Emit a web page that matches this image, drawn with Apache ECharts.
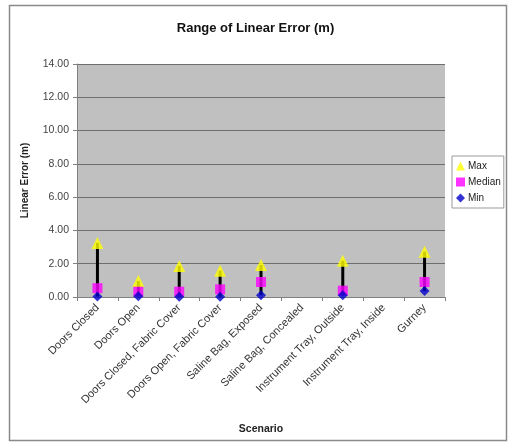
<!DOCTYPE html>
<html><head><meta charset="utf-8">
<script src="https://cdn.jsdelivr.net/npm/echarts@6/dist/echarts.min.js"></script>
<style>html,body{margin:0;padding:0;background:#fff}#c{width:511px;height:442px}</style>
</head><body><div id="c"></div>
<script>
const categories = ["Doors Closed","Doors Open","Doors Closed, Fabric Cover","Doors Open, Fabric Cover","Saline Bag, Exposed","Saline Bag, Concealed","Instrument Tray, Outside","Instrument Tray, Inside","Gurney"];
const maxVals = [3.25, 0.96, 1.86, 1.58, 1.92, null, 2.18, null, 2.72];
const medianVals = [0.53, 0.32, 0.32, 0.46, 0.90, null, 0.38, null, 0.90];
const minVals = [0.03, 0.05, 0.02, 0.02, 0.10, null, 0.10, null, 0.36];
const yTicks = [0, 2, 4, 6, 8, 10, 12, 14];

const F = "'Liberation Sans', Arial, sans-serif";
const rangeData = [];
categories.forEach((c, i) => { if (maxVals[i] != null) rangeData.push([i, minVals[i], maxVals[i]]); });

const chart = echarts.init(document.getElementById('c'));
chart.setOption({
  animation: false,
  backgroundColor: '#fff',
  textStyle: { fontFamily: F },
  title: { text: 'Range of Linear Error (m)', left: 'center', top: 17,
    textStyle: { fontFamily: F, fontSize: 13, fontWeight: 'bold', color: '#111' } },
  graphic: [{ type: 'rect', shape: { x: 9.5, y: 5.5, width: 497, height: 435 },
    style: { fill: 'none', stroke: '#8a8a8a', lineWidth: 1.5 }, z: 100 }],
  legend: {
    orient: 'vertical', left: 452, top: 156, width: 52,
    backgroundColor: '#fff', borderColor: '#9a9a9a', borderWidth: 1,
    padding: [5, 3, 5, 4], itemGap: 6, itemWidth: 9, itemHeight: 9,
    textStyle: { fontFamily: F, fontSize: 10, color: '#222', padding: [0, 0, 0, -2] },
    data: [{ name: 'Max', icon: 'triangle' }, { name: 'Median', icon: 'rect' }, { name: 'Min', icon: 'diamond' }]
  },
  grid: { left: 77, right: 66, top: 64, bottom: 145, show: true, backgroundColor: '#c0c0c0', borderWidth: 0 },
  xAxis: {
    type: 'category', data: categories, boundaryGap: true,
    name: 'Scenario', nameLocation: 'middle', nameGap: 127,
    nameTextStyle: { fontFamily: F, fontSize: 10.5, fontWeight: 'bold', color: '#222' },
    axisLine: { lineStyle: { color: '#808080', width: 1 } },
    axisTick: { show: true, length: 4, lineStyle: { color: '#808080' } },
    axisLabel: { rotate: 45, interval: 0, fontSize: 11, color: '#333', margin: 9 },
    splitLine: { show: false }
  },
  yAxis: {
    type: 'value', min: 0, max: 14, interval: 2,
    name: 'Linear Error (m)', nameLocation: 'middle', nameGap: 47,
    nameTextStyle: { fontFamily: F, fontSize: 10, fontWeight: 'bold', color: '#222' },
    axisLine: { show: true, lineStyle: { color: '#808080', width: 1 } },
    axisTick: { show: true, length: 4, lineStyle: { color: '#808080' } },
    axisLabel: { fontSize: 10.5, color: '#444', margin: 8,
      formatter: v => yTicks.includes(v) ? v.toFixed(2) : '' },
    splitLine: { lineStyle: { color: '#6e6e6e', width: 1 } }
  },
  series: [
    { type: 'custom', name: 'range', data: rangeData, z: 1,
      renderItem: (params, api) => {
        const p1 = api.coord([api.value(0), api.value(1)]);
        const p2 = api.coord([api.value(0), api.value(2)]);
        return { type: 'line', shape: { x1: p1[0], y1: p1[1], x2: p2[0], y2: p2[1] },
          style: { stroke: '#000', lineWidth: 3 } };
      } },
    { type: 'scatter', name: 'Max', data: maxVals, symbol: 'triangle', symbolSize: 12,
      itemStyle: { color: '#ffff00' }, z: 3 },
    { type: 'scatter', name: 'Median', data: medianVals, symbol: 'rect', symbolSize: 10,
      itemStyle: { color: '#ff00ff' }, z: 3 },
    { type: 'scatter', name: 'Min', data: minVals, symbol: 'diamond', symbolSize: 10,
      itemStyle: { color: '#0000cc' }, z: 4 }
  ]
});
</script></body></html>
